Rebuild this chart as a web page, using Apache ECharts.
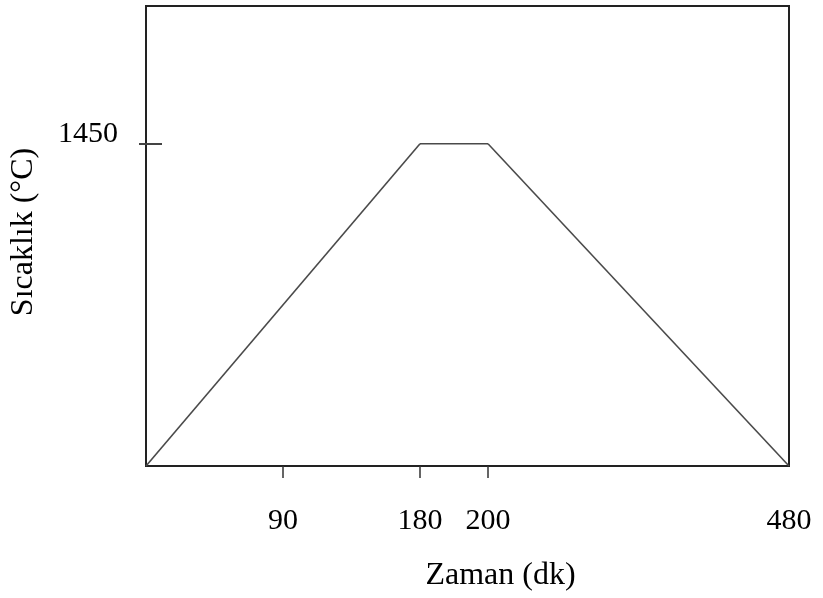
<!DOCTYPE html>
<html>
<head>
<meta charset="utf-8">
<script src="https://cdn.jsdelivr.net/npm/echarts@6/dist/echarts.min.js"></script>
<style>html,body{margin:0;padding:0;background:#fff}#c{width:823px;height:598px}</style>
</head>
<body>
<div id="c"></div>
<script>
// Data (schematic firing profile)
const timeMin = [0, 180, 200, 480];      // Zaman (dk)
const tempC = [0, 1450, 1450, 0];        // Sıcaklık (°C)
const xTickLabels = [90, 180, 200, 480];
const yTickLabels = [1450];
const yMax = 2070;

const FONT = "'Liberation Serif','Times New Roman',serif";
const chart = echarts.init(document.getElementById('c'), null, {renderer: 'canvas'});

// The reference x axis is drawn piecewise (not to scale): one grid per segment
const segLeft = [146, 420, 488];
const segWidth = [274, 68, 301];
const TOP = 6, HEIGHT = 460;

const grids = [{left: 146, top: TOP, width: 643, height: HEIGHT, show: true, borderColor: '#222', borderWidth: 2, z: 0}];
const xAxes = [{
  gridIndex: 0, type: 'value', min: timeMin[0], max: timeMin[timeMin.length - 1],
  axisLine: {show: false}, axisTick: {show: false}, axisLabel: {show: false}, splitLine: {show: false},
  name: 'Zaman (dk)', nameLocation: 'middle', nameGap: 94,
  nameTextStyle: {fontFamily: FONT, fontSize: 32, color: '#000', padding: [0, 0, 0, 66]}
}];
const yAxes = [{
  gridIndex: 0, type: 'value', min: 0, max: yMax,
  axisLine: {show: false}, splitLine: {show: false},
  axisTick: {show: true, inside: false, length: 7, lineStyle: {color: '#444', width: 2}, customValues: yTickLabels},
  axisLabel: {show: true, fontFamily: FONT, fontSize: 30, color: '#000', margin: 28, customValues: yTickLabels,
    verticalAlign: 'bottom', lineHeight: 20, formatter: v => String(v)},
  name: 'Sıcaklık (°C)', nameLocation: 'middle', nameGap: 106, nameRotate: 90,
  nameTextStyle: {fontFamily: FONT, fontSize: 32, color: '#000', padding: [0, 0, 0, 8]}
}];
const series = [];
const lastT = timeMin[timeMin.length - 1];
for (let i = 0; i < timeMin.length - 1; i++) {
  const lo = timeMin[i], hi = timeMin[i + 1];
  const gi = i + 1;
  grids.push({left: segLeft[i], top: TOP, width: segWidth[i], height: HEIGHT});
  const labs = xTickLabels.filter(v => v > lo && v <= hi);
  const ticks = labs.filter(v => v < lastT);
  xAxes.push({
    gridIndex: gi, type: 'value', min: lo, max: hi,
    axisLine: {show: false}, splitLine: {show: false},
    axisTick: {show: ticks.length > 0, length: 12, lineStyle: {color: '#333', width: 1.5}, customValues: ticks},
    axisLabel: {show: true, fontFamily: FONT, fontSize: 30, color: '#000', margin: 40, customValues: labs, formatter: v => String(v)}
  });
  yAxes.push({
    gridIndex: gi, type: 'value', min: 0, max: yMax,
    axisLine: {show: false}, splitLine: {show: false}, axisLabel: {show: false},
    axisTick: i === 0 ? {show: true, inside: true, length: 16, lineStyle: {color: '#444', width: 2}, customValues: yTickLabels} : {show: false}
  });
  series.push({
    type: 'line', xAxisIndex: gi, yAxisIndex: gi, symbol: 'none', silent: true,
    lineStyle: {color: '#4a4a4a', width: 1.6},
    data: [[lo, tempC[i]], [hi, tempC[i + 1]]]
  });
}

chart.setOption({
  animation: false,
  grid: grids,
  xAxis: xAxes,
  yAxis: yAxes,
  series: series
});
</script>
</body>
</html>
